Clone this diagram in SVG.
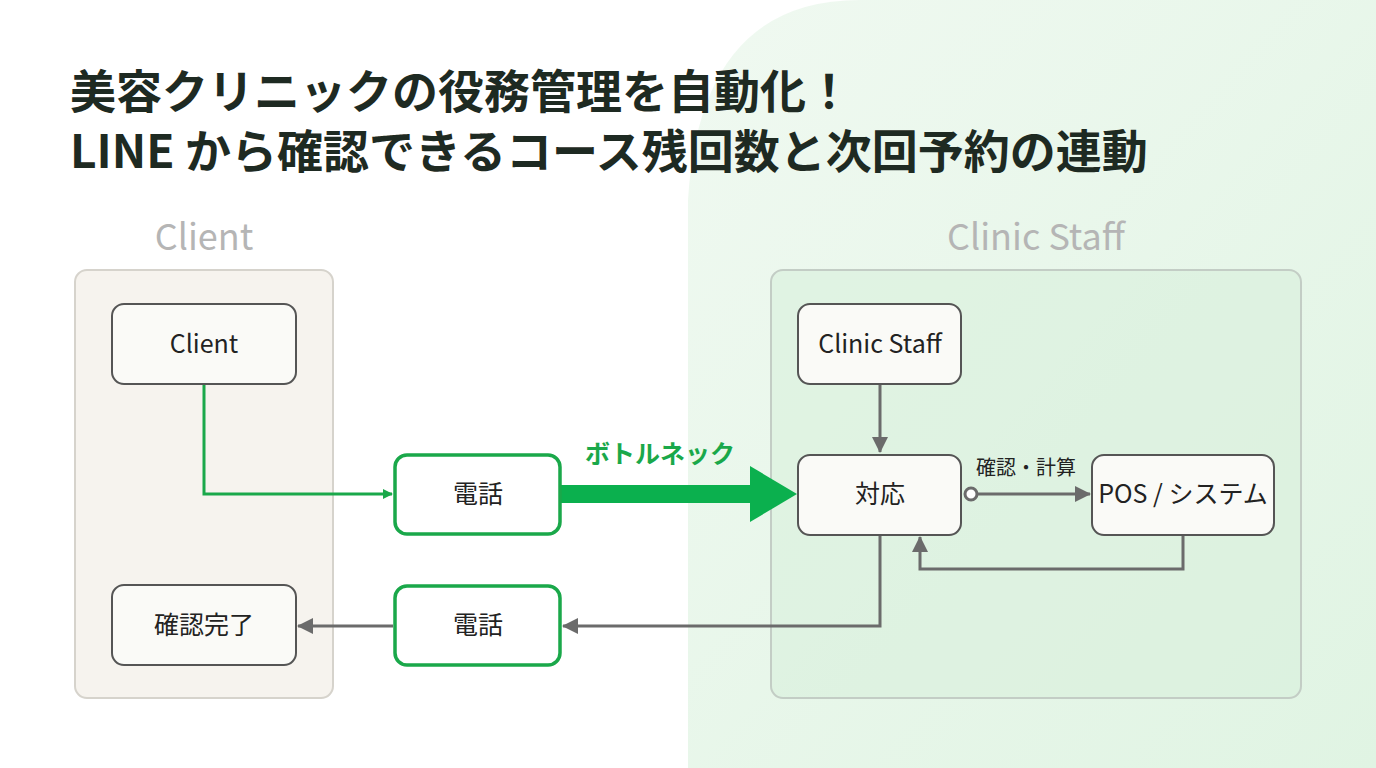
<svg xmlns="http://www.w3.org/2000/svg" width="1376" height="768" viewBox="0 0 1376 768">
<defs>
<style>
text{font-family:"Noto Sans CJK JP","Noto Sans",sans-serif;}
.t{font-size:46px;font-weight:bold;fill:#1e2a22;}
.lane{font-size:36px;fill:#b5b5b5;}
.n{fill:#fafaf7;stroke:#555;stroke-width:2;}
.g{fill:#fff;stroke:#1aa84a;stroke-width:3.5;}
.lb{font-size:25px;fill:#222;text-anchor:middle;}
.e{fill:none;stroke:#6b6b6b;stroke-width:3;}
</style>
<marker id="ag" markerWidth="10" markerHeight="10" refX="9" refY="5" orient="auto" markerUnits="userSpaceOnUse" viewBox="0 0 10 10"><path d="M0,0L10,5L0,10Z" fill="#1aa84a"/></marker>
<marker id="ar" markerWidth="16" markerHeight="16" refX="15" refY="8" orient="auto" markerUnits="userSpaceOnUse" viewBox="0 0 16 16"><path d="M0,0L16,8L0,16Z" fill="#6b6b6b"/></marker>
<linearGradient id="bg" x1="0" y1="0" x2="1" y2="1"><stop offset="0" stop-color="#f0f9f1"/><stop offset="1" stop-color="#e0f4e3"/></linearGradient>
</defs>
<rect width="1376" height="768" fill="#fff"/>
<path d="M688,768 L688,200 Q700,0 860,0 L1376,0 L1376,768 Z" fill="url(#bg)"/>
<text class="t" x="70" y="108">美容クリニックの役務管理を自動化！</text>
<text class="t" x="70" y="168">LINE から確認できるコース残回数と次回予約の連動</text>
<text class="lane" x="204" y="250" text-anchor="middle">Client</text>
<text class="lane" x="1036" y="250" text-anchor="middle">Clinic Staff</text>
<rect x="75" y="270" width="258" height="428" rx="12" fill="#f6f3ee" stroke="#d6d3cc" stroke-width="2"/>
<rect x="771" y="270" width="530" height="428" rx="12" fill="#d9f0dc" fill-opacity="0.6" stroke="#c3cdc5" stroke-width="2"/>
<g id="edges">
<path d="M204,384 V494 H392" fill="none" stroke="#1aa84a" stroke-width="3" marker-end="url(#ag)"/>
<path d="M561,494 H752" stroke="#0bb04e" stroke-width="18"/>
<path d="M750,466 L797,494 L750,522 Z" fill="#0bb04e"/>
<text x="660" y="463" font-size="25" font-weight="bold" fill="#1aa84a" text-anchor="middle">ボトルネック</text>
<path class="e" d="M880,384 V452" marker-end="url(#ar)"/>
<path class="e" d="M978,494 H1090" marker-end="url(#ar)"/>
<circle cx="971" cy="494" r="6" fill="#fff" stroke="#6b6b6b" stroke-width="3"/>
<text x="1026" y="475" font-size="20" fill="#222" text-anchor="middle">確認・計算</text>
<path class="e" d="M1183,535 V569 H920 V537" marker-end="url(#ar)"/>
<path class="e" d="M880,535 V626 H563" marker-end="url(#ar)"/>
<path class="e" d="M393,626 H298" marker-end="url(#ar)"/>
</g>
<g id="client"><rect class="n" x="112" y="304" width="184" height="80" rx="12"/><text class="lb" x="204" y="353">Client</text></g>
<g id="done"><rect class="n" x="112" y="585" width="184" height="80" rx="12"/><text class="lb" x="204" y="634">確認完了</text></g>
<g id="tel1"><rect class="g" x="395" y="455" width="165" height="79" rx="12"/><text class="lb" x="478" y="503">電話</text></g>
<g id="tel2"><rect class="g" x="395" y="586" width="165" height="79" rx="12"/><text class="lb" x="478" y="634">電話</text></g>
<g id="staff"><rect class="n" x="798" y="304" width="163" height="80" rx="12"/><text class="lb" x="880" y="353">Clinic Staff</text></g>
<g id="taiou"><rect class="n" x="798" y="455" width="163" height="80" rx="12"/><text class="lb" x="880" y="503">対応</text></g>
<g id="pos"><rect class="n" x="1092" y="455" width="182" height="80" rx="12"/><text class="lb" x="1183" y="503">POS / システム</text></g>
</svg>
